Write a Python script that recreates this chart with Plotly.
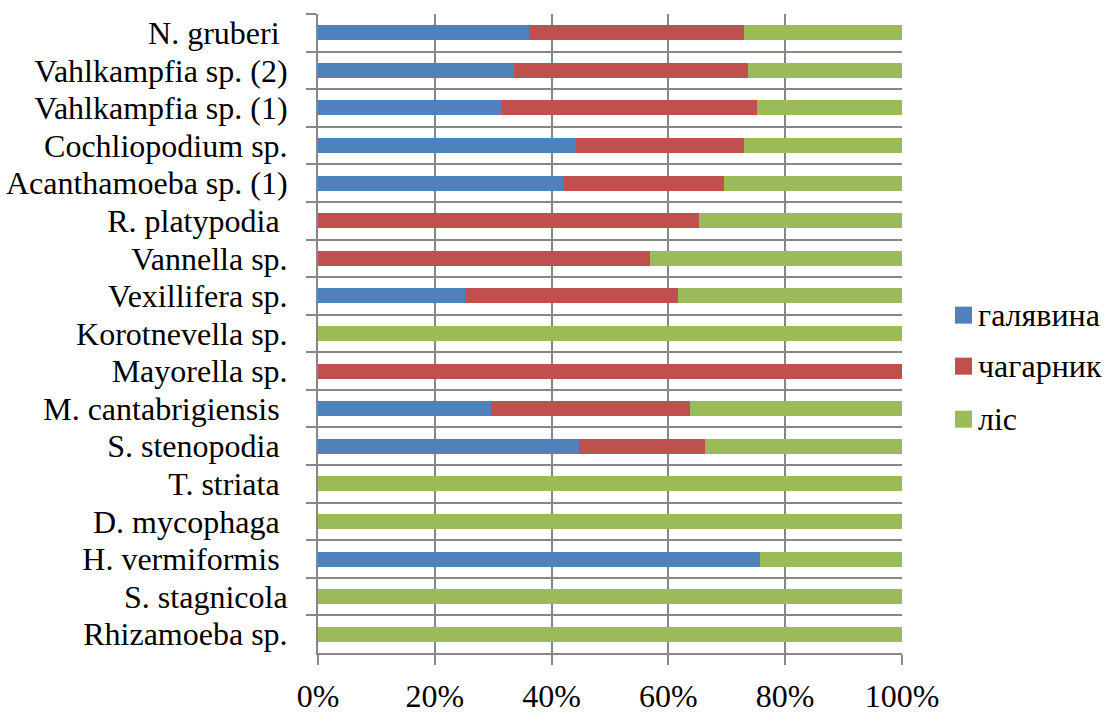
import plotly.graph_objects as go

categories = [
    "N. gruberi\u00a0", "Vahlkampfia sp. (2)", "Vahlkampfia sp. (1)", "Cochliopodium sp.",
    "Acanthamoeba sp. (1)", "R. platypodia\u00a0", "Vannella sp.", "Vexillifera sp.",
    "Korotnevella sp.", "Mayorella sp.", "M. cantabrigiensis\u00a0", "S. stenopodia\u00a0",
    "T. striata\u00a0", "D. mycophaga\u00a0", "H. vermiformis\u00a0", "S. stagnicola",
    "Rhizamoeba sp.",
]
series_names = ["галявина", "чагарник", "ліс"]
halyavyna = [36.2, 33.6, 31.5, 44.2, 42.2, 0, 0, 25.1, 0, 0, 29.7, 44.7, 0, 0, 75.6, 0, 0]
chaharnyk = [36.8, 40.0, 43.7, 28.7, 27.4, 65.2, 56.8, 36.6, 0, 100, 34.0, 21.5, 0, 0, 0, 0, 0]
lis = [27.0, 26.4, 24.8, 27.1, 30.4, 34.8, 43.2, 38.3, 100, 0, 36.3, 33.8, 100, 100, 24.4, 100, 100]
colors = ["#4F81BD", "#C0504D", "#9BBB59"]
x_ticks = [0, 20, 40, 60, 80, 100]

FONT = "Liberation Serif, Times New Roman, serif"
GRID = "#878787"
W, H = 1105, 713
L, T = 318, 14
R = W - 902
B = H - 652.7
PW, PH = W - L - R, H - T - B


def px_x(px):
    return (px - L) / PW


def px_y(py):
    return (H - B - py) / PH


fig = go.Figure()
for name, vals, col in zip(series_names, [halyavyna, chaharnyk, lis], colors):
    fig.add_trace(go.Bar(
        y=categories, x=vals, orientation="h", name=name,
        marker=dict(color=col, line=dict(width=0)),
        showlegend=False,
    ))

# manual legend (pixel positions)
legend_y = [315, 366, 419]
for name, col, cy in zip(series_names, colors, legend_y):
    fig.add_shape(
        type="rect", xref="paper", yref="paper",
        x0=px_x(955), x1=px_x(972), y0=px_y(cy + 8.5), y1=px_y(cy - 8.5),
        fillcolor=col, line=dict(width=0),
    )
    fig.add_annotation(
        xref="paper", yref="paper", x=px_x(976), y=px_y(cy),
        xanchor="left", yanchor="middle", showarrow=False,
        text=name, font=dict(family=FONT, size=32, color="black"),
    )

fig.update_layout(
    width=W, height=H, autosize=False,
    barmode="stack", bargap=0.6,
    plot_bgcolor="white", paper_bgcolor="white",
    margin=dict(l=L, r=R, t=T, b=B, autoexpand=False),
    font=dict(family=FONT, size=32, color="black"),
    showlegend=False,
)
fig.update_xaxes(
    range=[0, 100], tickvals=x_ticks, ticktext=[f"{v}%" for v in x_ticks],
    showgrid=True, gridcolor=GRID, gridwidth=2,
    showline=True, linecolor=GRID, linewidth=2,
    ticks="outside", ticklen=10, tickcolor=GRID, tickwidth=2,
    ticklabelstandoff=4, zeroline=False, automargin=False,
    tickfont=dict(family=FONT, size=32, color="black"),
)
fig.update_yaxes(
    type="category", categoryorder="array", categoryarray=categories,
    tickmode="linear", tick0=0, dtick=1,
    autorange="reversed", tickson="boundaries",
    showgrid=True, gridcolor=GRID, gridwidth=2,
    showline=True, linecolor=GRID, linewidth=2,
    ticks="outside", ticklen=10, tickcolor=GRID, tickwidth=2,
    ticklabelstandoff=22, automargin=False,
    tickfont=dict(family=FONT, size=32, color="black"),
)

fig.write_html(
    "out.html",
    config={"displayModeBar": False},
    post_script="document.body.style.margin='0';document.body.style.overflow='hidden';",
)
